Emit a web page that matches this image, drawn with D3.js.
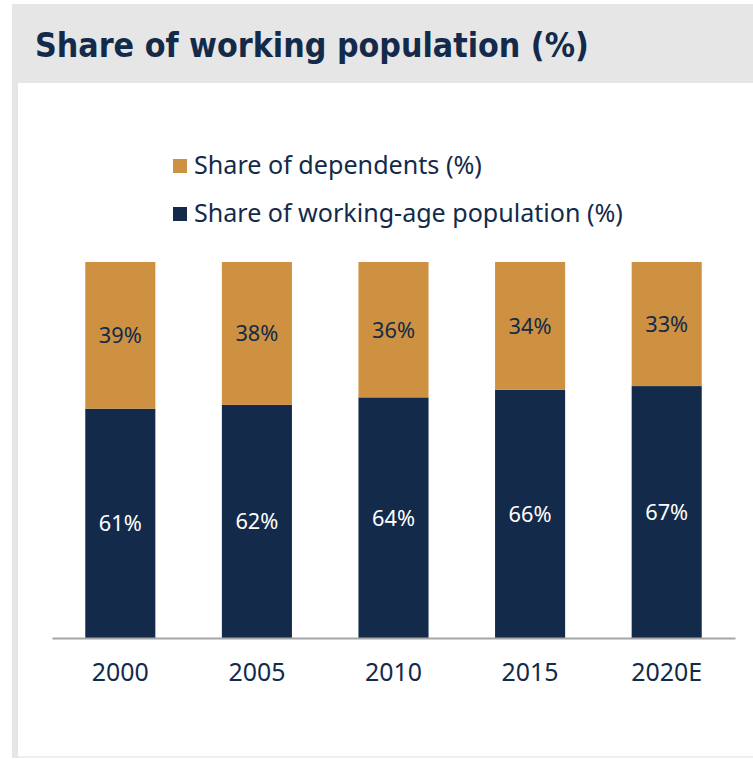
<!DOCTYPE html>
<html>
<head>
<meta charset="utf-8">
<script src="https://cdn.jsdelivr.net/npm/d3@7"></script>
<style>
  html, body { margin: 0; padding: 0; background: #ffffff; }
  svg { display: block; }
</style>
</head>
<body>
<svg id="chart" width="753" height="759"></svg>
<script>
const title = "Share of working population (%)";
const categories = ["2000", "2005", "2010", "2015", "2020E"];
const workingAge = [61, 62, 64, 66, 67];
const dependents = [39, 38, 36, 34, 33];
const seriesNames = ["Share of dependents (%)", "Share of working-age population (%)"];
const seriesColors = ["#CE9142", "#132A4A"];
const labelColors = ["#132A4A", "#FFFFFF"];

const svg = d3.select("#chart");
const W = 753, H = 759;
const navy = "#132A4A";
const bodyFont = "'Noto Sans', 'DejaVu Sans', sans-serif";

// fit font size of a text selection so that its rendered width matches a target
function fitWidth(sel, target) {
  const node = sel.node();
  const fs = parseFloat(sel.attr("font-size"));
  const w = node.getComputedTextLength();
  if (w > 0) sel.attr("font-size", (fs * target / w).toFixed(2));
}

// frame
svg.append("rect").attr("x", 0).attr("y", 0).attr("width", W).attr("height", H).attr("fill", "#fff");
svg.append("rect").attr("x", 12).attr("y", 4).attr("width", W - 12).attr("height", 79).attr("fill", "#E6E6E6");
svg.append("rect").attr("x", 12).attr("y", 83).attr("width", 6).attr("height", 675).attr("fill", "#E6E6E6");
svg.append("rect").attr("x", 18).attr("y", 756).attr("width", W - 18).attr("height", 2).attr("fill", "#EFEFEF");

const titleText = svg.append("text")
  .attr("x", 35).attr("y", 57)
  .attr("fill", navy)
  .attr("font-family", "'DejaVu Sans Condensed', sans-serif")
  .attr("font-weight", "bold")
  .attr("font-size", 35)
  .text(title);
fitWidth(titleText, 554);

// data rows
const rows = categories.map((c, i) => ({ cat: c, working: workingAge[i], dep: dependents[i] }));
const stack = d3.stack().keys(["working", "dep"])(rows);

const x = d3.scaleBand().domain(categories).range([52, 735]).paddingInner(0.487).paddingOuter(0.2435);
const y = d3.scaleLinear().domain([0, 100]).range([638, 262]);

const keyIndex = { working: 1, dep: 0 };

const layers = svg.append("g").selectAll("g").data(stack).join("g")
  .attr("fill", d => seriesColors[keyIndex[d.key]]);

layers.selectAll("rect").data(d => d).join("rect")
  .attr("x", d => x(d.data.cat))
  .attr("width", x.bandwidth())
  .attr("y", d => y(d[1]))
  .attr("height", d => y(d[0]) - y(d[1]));

// value labels
let valueFs = 22;
stack.forEach(layer => {
  const t = svg.append("g").selectAll("text").data(layer).join("text")
    .attr("x", d => x(d.data.cat) + x.bandwidth() / 2)
    .attr("y", d => (y(d[0]) + y(d[1])) / 2)
    .attr("dy", "0.36em")
    .attr("text-anchor", "middle")
    .attr("fill", labelColors[keyIndex[layer.key]])
    .attr("font-family", bodyFont)
    .attr("font-size", 22)
    .text(d => (d[1] - d[0]) + "%");
  if (layer.key === "working") {
    const first = d3.select(t.nodes()[0]);
    fitWidth(first, 43);
    valueFs = parseFloat(first.attr("font-size"));
  }
});
svg.selectAll("text[dy='0.36em']").attr("font-size", valueFs);

// x axis
const xAxis = svg.append("g").attr("transform", "translate(0,638)")
  .call(d3.axisBottom(x).tickSize(0).tickPadding(0));
xAxis.select(".domain").attr("stroke", "#A6A6A6").attr("stroke-width", 2);
const ticks = xAxis.selectAll("text")
  .attr("fill", navy)
  .attr("font-family", bodyFont)
  .attr("font-size", 25)
  .attr("y", 43)
  .attr("dy", 0);
const firstTick = d3.select(ticks.nodes()[0]);
fitWidth(firstTick, 57);
ticks.attr("font-size", firstTick.attr("font-size"));

// legend
const legend = svg.append("g");
const legendTargets = [288, 429];
seriesNames.forEach((name, i) => {
  const ly = 159 + i * 48;
  legend.append("rect").attr("x", 173).attr("y", ly).attr("width", 14).attr("height", 14).attr("fill", seriesColors[i]);
  const lt = legend.append("text").attr("x", 194).attr("y", ly + 15)
    .attr("fill", navy)
    .attr("font-family", bodyFont)
    .attr("font-size", 22)
    .text(name);
  fitWidth(lt, legendTargets[i]);
});
</script>
</body>
</html>
